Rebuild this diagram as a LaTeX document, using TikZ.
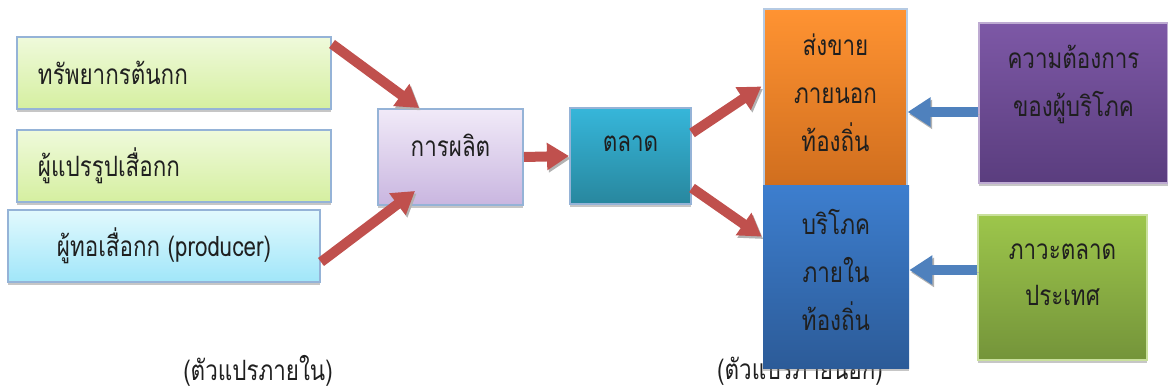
\documentclass[tikz,border=0pt]{standalone}
\usepackage{fontspec}
\setmainfont{Loma}[Script=Thai,FakeStretch=0.8]
\usetikzlibrary{arrows.meta,shadows}

\definecolor{edgeblue}{HTML}{95B3D7}
\definecolor{arrowred}{HTML}{C0504D}
\definecolor{arrowblue}{HTML}{4F81BD}
\definecolor{leaftop}{HTML}{EFFADB}
\definecolor{leafbot}{HTML}{D5EFA0}
\definecolor{skytop}{HTML}{E2F9FD}
\definecolor{skybot}{HTML}{A0E6F9}
\definecolor{lilactop}{HTML}{F1EAF8}
\definecolor{lilacbot}{HTML}{C9B6E0}
\definecolor{tealtop}{HTML}{36B6DA}
\definecolor{tealbot}{HTML}{28879E}
\definecolor{orangetop}{HTML}{FF9332}
\definecolor{orangebot}{HTML}{D06E1E}
\definecolor{bluetop}{HTML}{3D7ECE}
\definecolor{bluebot}{HTML}{2C5B98}
\definecolor{purpletop}{HTML}{7D58A6}
\definecolor{purplebot}{HTML}{5A3D7E}
\definecolor{greentop}{HTML}{9DC64B}
\definecolor{greenbot}{HTML}{74943A}
\newcommand\thaisize{\fontsize{14pt}{24pt}\selectfont}

\tikzset{
  boxshade/.style={drop shadow={shadow xshift=0pt, shadow yshift=-1.5pt, opacity=0.45}},
  arrowshade/.style={preaction={draw=black!30, transform canvas={shift={(0.8pt,-1.2pt)}}}},
  inbox/.style={draw=edgeblue, line width=1pt, boxshade, minimum height=36pt, inner xsep=10.5pt},
  redarrow/.style={draw=arrowred, line width=5pt, -{Triangle[width=13pt,length=11pt]}, arrowshade},
  bluearrow/.style={draw=arrowblue, line width=5pt, -{Triangle[width=14pt,length=11.5pt]}, arrowshade}
}

\begin{document}
\begin{tikzpicture}[x=0.5pt, y=-0.5pt, font=\thaisize, text=black!88]
  \useasboundingbox (0,0) rectangle (1168,390);

  % Inner variables
  \node[inbox, text width=136pt, align=left, top color=leaftop, bottom color=leafbot] (source) at (174,73) {ทรัพยากรต้นกก};
  \node[inbox, text width=136pt, align=left, top color=leaftop, bottom color=leafbot] (convert) at (174,166) {ผู้แปรรูปเสื่อกก};
  \node[inbox, minimum width=156pt, top color=skytop, bottom color=skybot] (weaver) at (164,246) {ผู้ทอเสื่อกก (producer)};
  \node[inbox, minimum width=72.5pt, minimum height=48pt, top color=lilactop, bottom color=lilacbot,
        label={[name=prod-t, yshift=6pt]center:การผลิต}] (prod) at (450.5,157) {};
  \node[inbox, minimum width=60.5pt, minimum height=48pt, top color=tealtop, bottom color=tealbot,
        label={[name=market-t, yshift=6pt]center:ตลาด}] (market) at (630.5,156) {};

  % Outer variables
  \node[inner sep=0pt] (outer) at (800,371) {(ตัวแปรภายนอก)}; % behind the box
  \node[inner sep=0pt] (inner) at (258,371) {(ตัวแปรภายใน)};
  \node[draw=edgeblue!70, line width=0.6pt, boxshade, minimum width=71.5pt, minimum height=88.5pt, top color=orangetop, bottom color=orangebot,
        label={[name=sell-t, yshift=2.25pt, align=center]center:ส่งขาย\\ภายนอก\\ท้องถิ่น}] (sell) at (835.5,97.5) {};
  \node[boxshade, minimum width=73pt, minimum height=91pt, top color=bluetop, bottom color=bluebot,
        label={[name=local-t, yshift=3.5pt, align=center]center:บริโภค\\ภายใน\\ท้องถิ่น}] (local) at (836,277) {};
  \node[draw=purpletop!50!white, line width=0.6pt, boxshade, minimum width=94.5pt, minimum height=80pt, top color=purpletop, bottom color=purplebot,
        label={[name=demand-t, yshift=9.5pt, align=center]center:ความต้องการ\\ของผู้บริโภค}] (demand) at (1073.5,103) {};
  \node[draw=greentop!55!white, line width=0.6pt, boxshade, minimum width=84.5pt, minimum height=72.5pt, top color=greentop, bottom color=greenbot,
        label={[name=cond-t, yshift=6.25pt, align=center]center:ภาวะตลาด\\[-1pt]ประเทศ}] (cond) at (1062.5,287.5) {};

  % Flow arrows
  \draw[redarrow] ([yshift=-4pt]source.north east) -- ([xshift=21pt]prod.north west);
  \draw[redarrow] ([yshift=-8pt]weaver.east) -- ([xshift=19pt,yshift=7.5pt]prod.south west);
  \draw[redarrow] (prod.east) -- (market.west);
  \draw[redarrow] ([yshift=11.5pt]market.east) -- ([xshift=-1pt,yshift=5.5pt]sell.west);
  \draw[redarrow] ([yshift=-16pt]market.east) -- ([xshift=-0.5pt,yshift=-25.5pt]local.north west);
  \draw[bluearrow] ([yshift=-4.5pt]demand.west) -- ([yshift=-4.5pt]demand.west -| sell.east);
  \draw[bluearrow] ([yshift=8.75pt]cond.west) -- ([yshift=8.75pt]cond.west -| local.east);
\end{tikzpicture}
\end{document}
